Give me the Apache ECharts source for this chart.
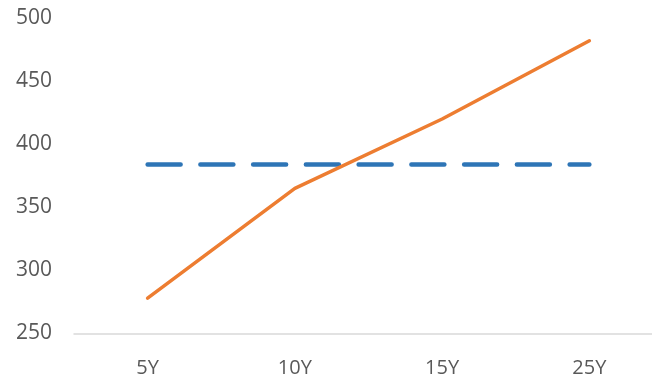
<!DOCTYPE html>
<html>
<head>
<meta charset="utf-8">
<script src="https://cdn.jsdelivr.net/npm/echarts@6/dist/echarts.min.js"></script>
<style>
  html, body { margin: 0; padding: 0; background: #fff; overflow: hidden; }
  #chart { width: 664px; height: 379px; }
</style>
</head>
<body>
<div id="chart"></div>
<script>
const categories = ['5Y', '10Y', '15Y', '25Y'];
const curveValues = [278, 365, 420, 482];
const flatValues = [384, 384, 384, 384];
const yTicks = { min: 250, max: 500, interval: 50 };

const labelColor = '#595959';
const chart = echarts.init(document.getElementById('chart'));

chart.setOption({
  animation: false,
  grid: { left: 74, right: 1, top: 18, bottom: 45.5 },
  xAxis: {
    type: 'category',
    data: categories,
    boundaryGap: true,
    axisLine: { lineStyle: { color: '#d9d9d9', width: 1.5 } },
    axisTick: { show: false },
    axisLabel: { color: labelColor, fontSize: 20, fontFamily: 'Open Sans', margin: 25 },
  },
  yAxis: {
    type: 'value',
    min: yTicks.min,
    max: yTicks.max,
    interval: yTicks.interval,
    axisLine: { show: false },
    axisTick: { show: false },
    splitLine: { show: false },
    axisLabel: { color: labelColor, fontSize: 21, fontFamily: 'Open Sans', margin: 22 },
  },
  series: [
    {
      type: 'line',
      data: flatValues,
      symbol: 'none',
      lineStyle: { color: '#2e75b6', width: 4.5, type: [33, 19.75], cap: 'round' },
    },
    {
      type: 'line',
      data: curveValues,
      symbol: 'none',
      lineStyle: { color: '#ed7d31', width: 3.5, cap: 'round' },
    },
  ],
});
</script>
</body>
</html>
